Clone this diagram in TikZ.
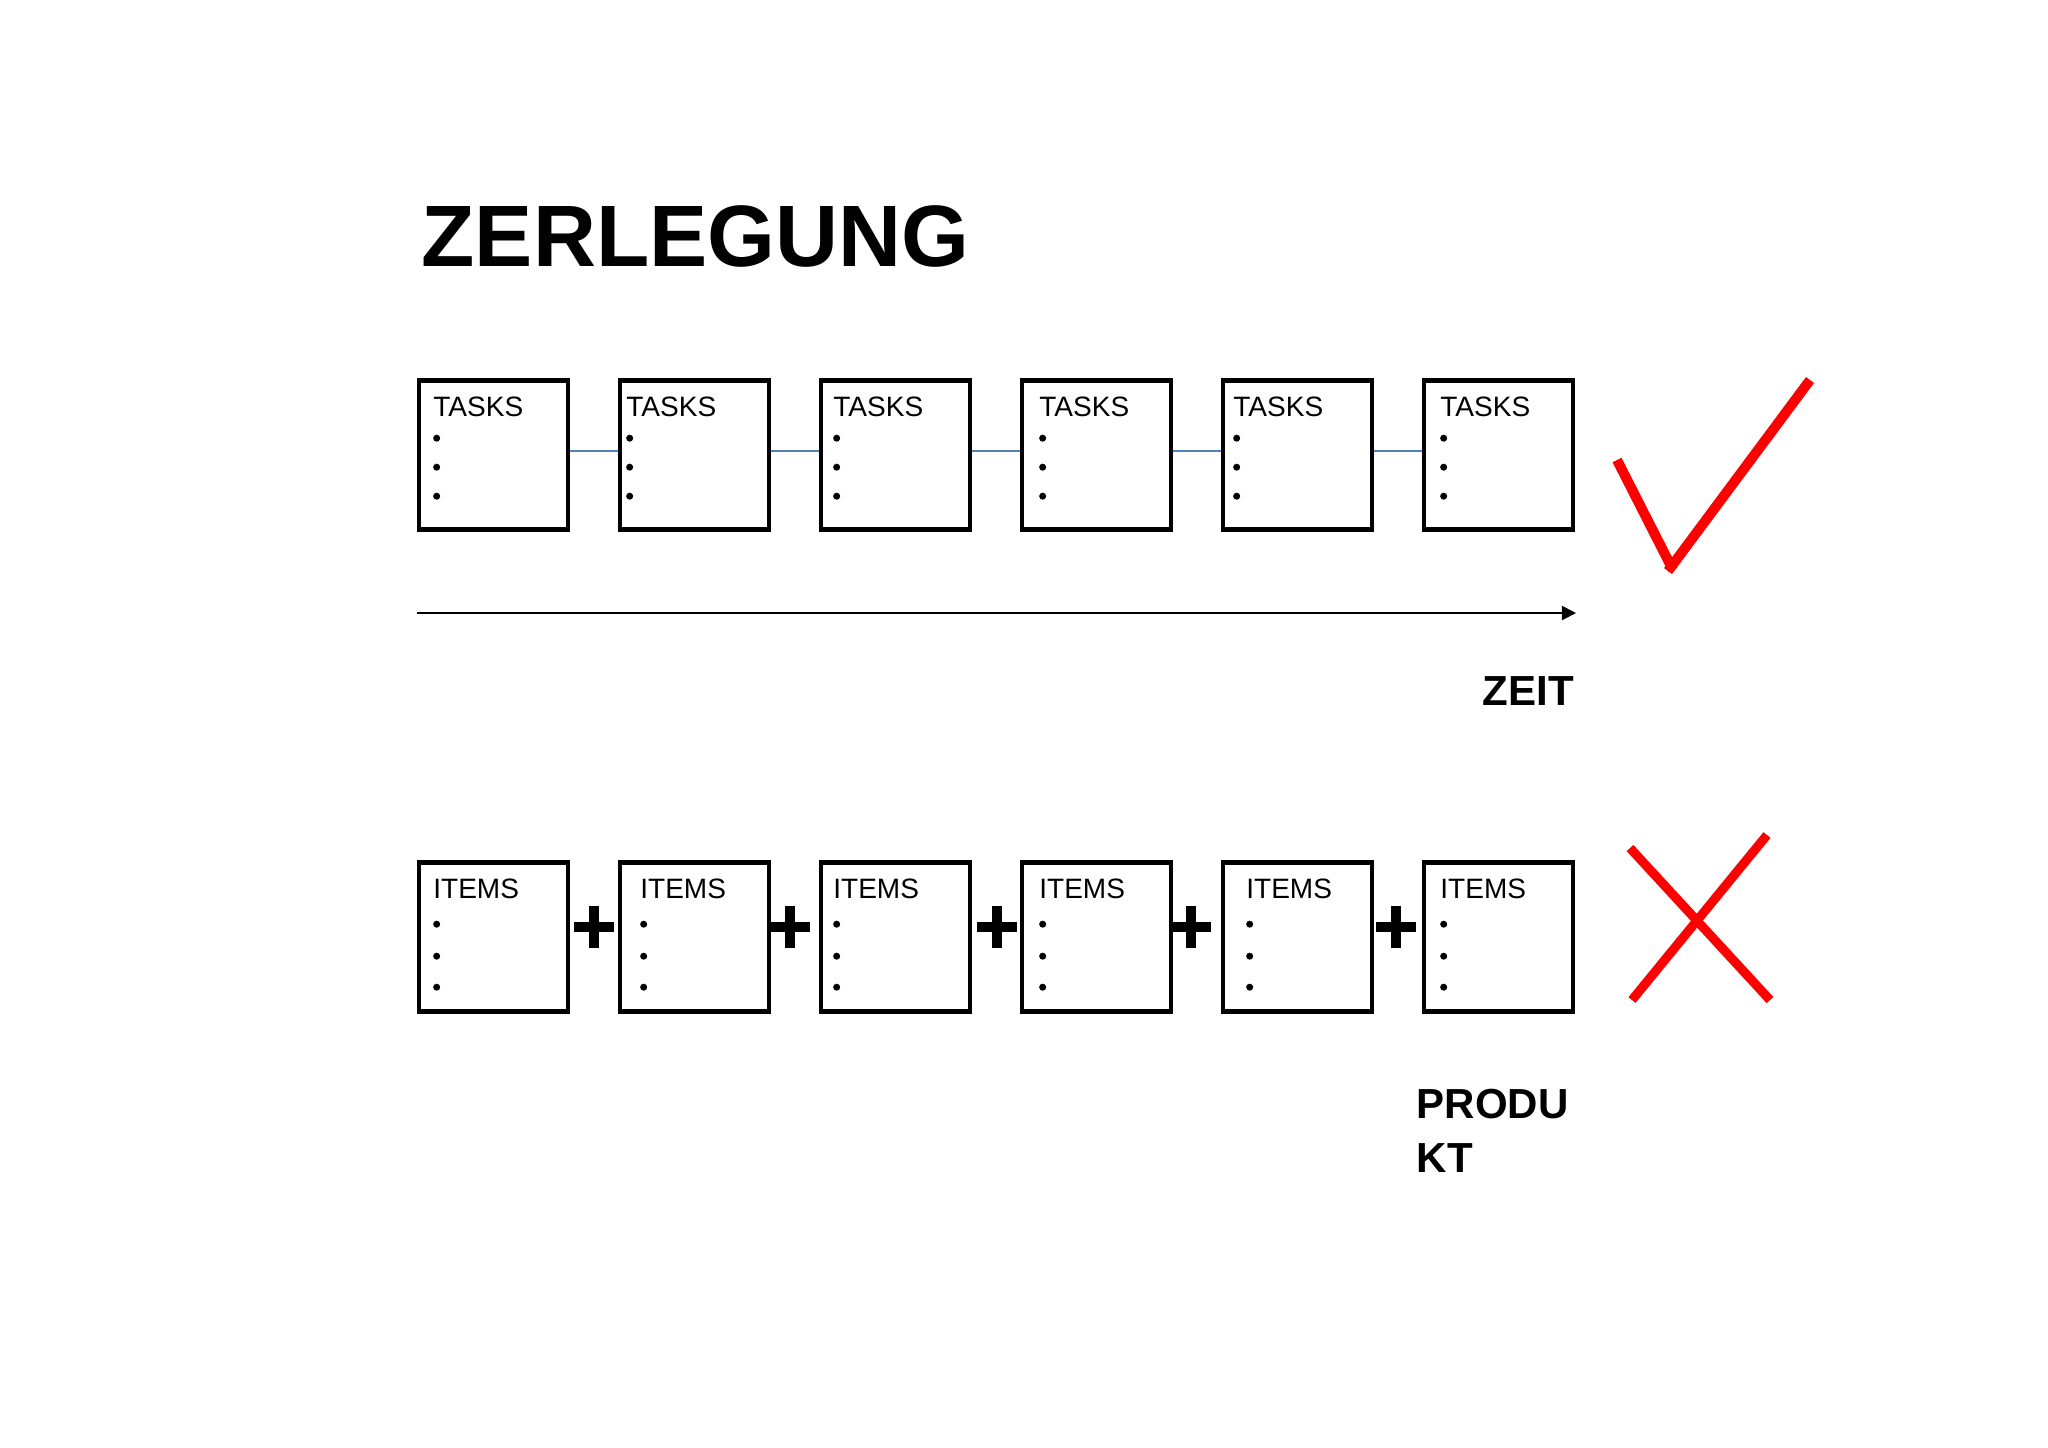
\documentclass[tikz,border=0pt]{standalone}
\usepackage{fontspec}
\setmainfont{Liberation Sans}
\usetikzlibrary{arrows.meta,calc}

\begin{document}
\begin{tikzpicture}[x=0.01cm,y=-0.01cm, >={Triangle[length=4pt,width=4pt]}]
    \tikzstyle{every node}=[inner sep=0pt]
    \tikzstyle{kasten}=[draw, line width=1.3pt, minimum size=1.49cm]
    \tikzstyle{klein}=[anchor=base west, font=\fontsize{7.97}{9.5}\selectfont]
    \tikzstyle{gross}=[anchor=base west, font=\bfseries\fontsize{11.95}{15}\selectfont]
    \tikzstyle{verbindung}=[draw={rgb,255:red,79;green,129;blue,189}, line width=0.5pt]
    \tikzstyle{rot}=[draw=red]
    \useasboundingbox (0,0) rectangle (2048,1447);
    \node[anchor=base west, font=\bfseries\fontsize{24.8}{30}\selectfont] (titel) at (421,266) {ZERLEGUNG};
    % obere Reihe: Tasks
    \foreach \i/\dx in {1/16,2/8,3/14,4/19,5/12,6/18}
        {
            \node[kasten] (t\i) at (292.5+201*\i,455) {};
            \node[klein] (tl\i) at ($(t\i.north west)+(\dx,38)$) {TASKS};
            \foreach \dy in {60,89,118}
                \fill ($(t\i.north west)+(\dx+4,\dy)$) circle [radius=1pt];
        }
    \foreach \i in {1,...,5}
        {
            \pgfmathtruncatemacro{\j}{\i+1}
            \draw[verbindung] ([yshift=1.1pt]t\i.east) -- ([yshift=1.1pt]t\j.west);
        }
    \coordinate (zeitA) at (417,613);
    \coordinate (zeitB) at (1576,613);
    \draw[->, line width=0.55pt] (zeitA) -- (zeitB);
    \node[gross] (zeit) at (1482,705) {ZEIT};
    % Haken
    \draw[rot, line width=2.85pt] (1617,460) -- (1673,570);
    \draw[rot, line width=2.85pt] (1668,571) -- (1810,380);
    % untere Reihe: Items
    \foreach \i/\dx in {1/16,2/22,3/14,4/19,5/25,6/18}
        {
            \node[kasten] (i\i) at (292.5+201*\i,937) {};
            \node[klein] (il\i) at ($(i\i.north west)+(\dx,38)$) {ITEMS};
            \foreach \dy in {64,96,127}
                \fill ($(i\i.north west)+(\dx+4,\dy)$) circle [radius=1pt];
        }
    \foreach \px in {594,790,997,1191,1396}
        {
            \draw[line width=3pt] (\px-20,927) -- (\px+20,927);
            \draw[line width=3pt] (\px,906) -- (\px,948);
        }
    % Kreuz
    \draw[rot, line width=2.6pt] (1630,848) -- (1770,1000);
    \draw[rot, line width=2.6pt] (1767,835) -- (1632,1000);
    \node[gross] (produ) at (1416,1118) {PRODU};
    \node[gross] (kt) at (1416,1172) {KT};
\end{tikzpicture}
\end{document}
